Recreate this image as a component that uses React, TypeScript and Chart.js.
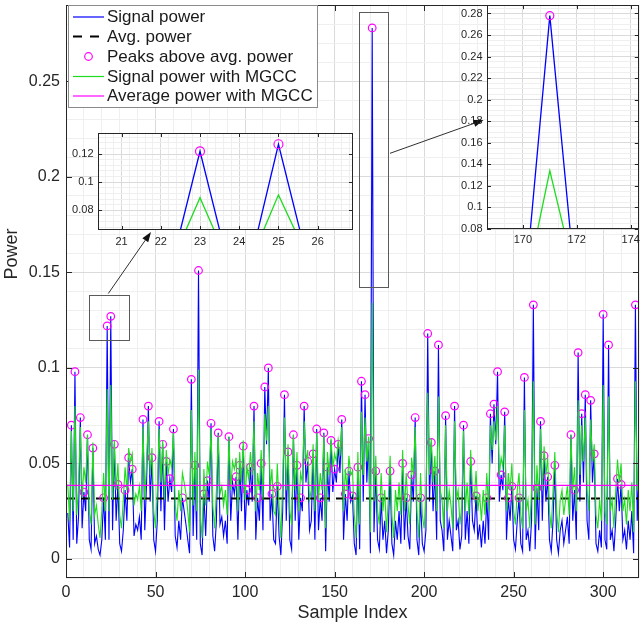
import React, { useEffect, useRef } from "react";
import { Chart, registerables } from "chart.js";

Chart.register(...registerables);

const FONT = "'Liberation Sans', Arial, Helvetica, sans-serif";

// Signal power (blue), samples 1..320
const signalPower: number[] = [
  0.024,0.006,0.070,0.010,0.098,0.008,0.022,0.074,0.016,0.035,
  0.025,0.065,0.010,0.005,0.058,0.008,0.012,0.005,0.002,0.010,
  0.032,0.010,0.122,0.010,0.127,0.015,0.060,0.020,0.039,0.008,
  0.004,0.015,0.036,0.020,0.053,0.040,0.047,0.012,0.018,0.015,
  0.022,0.010,0.073,0.015,0.040,0.080,0.030,0.053,0.010,0.004,
  0.020,0.072,0.025,0.060,0.015,0.051,0.030,0.042,0.035,0.068,
  0.012,0.006,0.020,0.010,0.032,0.025,0.018,0.010,0.003,0.094,
  0.012,0.049,0.010,0.151,0.008,0.002,0.034,0.012,0.041,0.030,
  0.071,0.012,0.004,0.020,0.066,0.018,0.022,0.012,0.020,0.008,
  0.064,0.020,0.040,0.034,0.043,0.010,0.049,0.025,0.059,0.015,
  0.036,0.028,0.048,0.030,0.080,0.010,0.032,0.020,0.050,0.015,
  0.090,0.060,0.100,0.020,0.034,0.010,0.008,0.038,0.012,0.002,
  0.025,0.086,0.020,0.056,0.010,0.005,0.065,0.020,0.049,0.010,
  0.032,0.025,0.080,0.040,0.051,0.015,0.020,0.055,0.010,0.068,
  0.015,0.032,0.020,0.066,0.004,0.048,0.030,0.062,0.035,0.047,
  0.040,0.060,0.045,0.073,0.010,0.034,0.020,0.046,0.030,0.033,
  0.008,0.002,0.048,0.005,0.093,0.030,0.086,0.040,0.063,0.003,
  0.278,0.014,0.046,0.010,0.005,0.032,0.010,0.020,0.003,0.015,
  0.046,0.008,0.002,0.020,0.010,0.025,0.008,0.050,0.010,0.032,
  0.012,0.005,0.044,0.030,0.074,0.010,0.002,0.032,0.008,0.004,
  0.015,0.118,0.030,0.061,0.025,0.046,0.010,0.112,0.020,0.015,
  0.004,0.075,0.010,0.020,0.012,0.004,0.080,0.015,0.020,0.005,
  0.012,0.070,0.010,0.025,0.008,0.051,0.020,0.015,0.033,0.010,
  0.018,0.006,0.020,0.008,0.032,0.010,0.076,0.050,0.081,0.060,
  0.098,0.030,0.044,0.036,0.077,0.010,0.032,0.020,0.038,0.010,
  0.005,0.020,0.032,0.008,0.004,0.095,0.010,0.015,0.004,0.020,
  0.133,0.005,0.037,0.015,0.072,0.020,0.054,0.030,0.043,0.010,
  0.004,0.020,0.049,0.010,0.003,0.015,0.020,0.008,0.015,0.022,
  0.008,0.065,0.020,0.036,0.010,0.108,0.030,0.076,0.040,0.086,
  0.020,0.010,0.083,0.040,0.055,0.008,0.004,0.015,0.006,0.128,
  0.010,0.005,0.112,0.010,0.015,0.004,0.020,0.042,0.025,0.039,
  0.010,0.015,0.005,0.020,0.010,0.025,0.003,0.133,0.020,0.045,
];

// Signal power with MGCC (green), samples 1..320
const mgccPower: number[] = [
  0.039,0.020,0.067,0.025,0.080,0.023,0.038,0.069,0.032,0.048,
  0.040,0.065,0.025,0.018,0.061,0.023,0.028,0.018,0.011,0.025,
  0.045,0.025,0.089,0.025,0.091,0.031,0.062,0.036,0.050,0.023,
  0.016,0.031,0.048,0.036,0.058,0.051,0.055,0.028,0.034,0.031,
  0.038,0.025,0.069,0.031,0.051,0.072,0.044,0.058,0.025,0.016,
  0.036,0.068,0.040,0.062,0.031,0.057,0.044,0.052,0.048,0.066,
  0.028,0.020,0.036,0.025,0.045,0.040,0.034,0.025,0.014,0.078,
  0.028,0.056,0.025,0.099,0.023,0.011,0.047,0.028,0.051,0.044,
  0.068,0.028,0.016,0.036,0.065,0.034,0.038,0.028,0.036,0.023,
  0.064,0.036,0.051,0.047,0.053,0.025,0.056,0.040,0.062,0.031,
  0.048,0.042,0.056,0.044,0.072,0.025,0.045,0.036,0.057,0.031,
  0.076,0.062,0.080,0.036,0.047,0.025,0.023,0.050,0.028,0.011,
  0.040,0.074,0.036,0.060,0.025,0.018,0.065,0.036,0.056,0.025,
  0.045,0.040,0.072,0.051,0.057,0.031,0.036,0.060,0.025,0.066,
  0.031,0.045,0.036,0.065,0.016,0.056,0.044,0.063,0.048,0.055,
  0.051,0.062,0.054,0.069,0.025,0.047,0.036,0.054,0.044,0.046,
  0.023,0.011,0.056,0.018,0.077,0.044,0.074,0.051,0.064,0.014,
  0.134,0.030,0.054,0.025,0.018,0.045,0.025,0.036,0.014,0.031,
  0.054,0.023,0.011,0.036,0.025,0.040,0.023,0.057,0.025,0.045,
  0.028,0.018,0.053,0.044,0.069,0.025,0.011,0.045,0.023,0.016,
  0.031,0.087,0.044,0.063,0.040,0.054,0.025,0.085,0.036,0.031,
  0.016,0.070,0.025,0.036,0.028,0.016,0.072,0.031,0.036,0.018,
  0.028,0.067,0.025,0.040,0.023,0.057,0.036,0.031,0.046,0.025,
  0.034,0.020,0.036,0.023,0.045,0.025,0.070,0.057,0.072,0.062,
  0.080,0.044,0.053,0.048,0.070,0.025,0.045,0.036,0.050,0.025,
  0.018,0.036,0.045,0.023,0.016,0.078,0.025,0.031,0.016,0.036,
  0.093,0.018,0.049,0.031,0.068,0.036,0.059,0.044,0.053,0.025,
  0.016,0.036,0.056,0.025,0.014,0.031,0.036,0.023,0.031,0.038,
  0.023,0.065,0.036,0.048,0.025,0.083,0.044,0.070,0.051,0.074,
  0.036,0.025,0.073,0.051,0.060,0.023,0.016,0.031,0.020,0.091,
  0.025,0.018,0.085,0.025,0.031,0.016,0.036,0.052,0.040,0.050,
  0.025,0.031,0.018,0.036,0.025,0.040,0.014,0.093,0.036,0.054,
];

const sampleIndex: number[] = signalPower.map((_, i) => i + 1);

const avgPower = 0.0316;
const avgPowerMgcc = 0.0385;

const legendLabels = [
  "Signal power",
  "Avg. power",
  "Peaks above avg. power",
  "Signal power with MGCC",
  "Average power with MGCC",
];

const mainXTicks = [0, 50, 100, 150, 200, 250, 300];
const mainYTicks = [0, 0.05, 0.1, 0.15, 0.2, 0.25];
const inset1XTicks = [21, 22, 23, 24, 25, 26];
const inset1YTicks = [0.08, 0.1, 0.12];
const inset2XTicks = [170, 172, 174];
const inset2YTicks = [0.08, 0.1, 0.12, 0.14, 0.16, 0.18, 0.2, 0.22, 0.24, 0.26, 0.28];

const C_BLUE = "#0000ff";
const C_GREEN = "#1fdc1f";
const C_MAG = "#ff00ff";
const C_TEXT = "#262626";
const C_FRAME = "#262626";
const GRID_MAJOR = "#dadada";
const GRID_MINOR = "#efefef";

// peaks above average power (local maxima of the signal)
const peakPoints = sampleIndex
  .map((x, i) => ({ x, y: signalPower[i], i }))
  .filter(
    (p) =>
      p.i > 0 &&
      p.i < signalPower.length - 1 &&
      p.y > avgPower &&
      p.y > signalPower[p.i - 1] &&
      p.y > signalPower[p.i + 1]
  )
  .map(({ x, y }) => ({ x, y }));

const signalXY = sampleIndex.map((x, i) => ({ x, y: signalPower[i] }));
const mgccXY = sampleIndex.map((x, i) => ({ x, y: mgccPower[i] }));

function near(a: number, b: number) {
  return Math.abs(a - b) < 1e-7;
}
function fmt(v: number) {
  return String(+v.toFixed(4));
}
function gridValues(min: number, max: number, step: number, major: number[]) {
  const out: number[] = [];
  const start = Math.ceil(min / step - 1e-6);
  const end = Math.floor(max / step + 1e-6);
  for (let k = start; k <= end; k++) out.push(Math.round(k * step * 1e6) / 1e6);
  major.forEach((m) => {
    if (m >= min && m <= max && !out.some((v) => near(v, m))) out.push(m);
  });
  return out.sort((a, b) => a - b);
}

interface AxisSpec {
  min: number;
  max: number;
  major: number[];
  minorStep: number;
  pad: number;
}
interface PanelSpec {
  x: AxisSpec;
  y: AxisSpec;
  canvasW: number;
  canvasH: number;
  area: { left: number; top: number; right: number; bottom: number };
  fontSize: number;
  tickLen: number;
  white: boolean;
  extra?: (chart: any) => void;
}

function axisOptions(ax: AxisSpec, spec: PanelSpec, horizontal: boolean) {
  const size = horizontal ? spec.canvasH - spec.area.bottom : spec.area.left;
  return {
    type: "linear",
    min: ax.min,
    max: ax.max,
    afterBuildTicks: (scale: any) => {
      scale.ticks = gridValues(ax.min, ax.max, ax.minorStep, ax.major).map((v) => ({ value: v }));
    },
    afterFit: (scale: any) => {
      if (horizontal) scale.height = size;
      else scale.width = size;
      scale.paddingTop = 0;
      scale.paddingBottom = 0;
      scale.paddingLeft = 0;
      scale.paddingRight = 0;
    },
    grid: {
      color: (ctx: any) =>
        ctx.tick && ax.major.some((m) => near(m, ctx.tick.value)) ? GRID_MAJOR : GRID_MINOR,
      lineWidth: 1,
      drawTicks: false,
    },
    border: { display: false },
    ticks: {
      autoSkip: false,
      maxRotation: 0,
      minRotation: 0,
      padding: ax.pad,
      color: C_TEXT,
      font: { family: FONT, size: spec.fontSize },
      callback: (v: any) => (ax.major.some((m) => near(m, Number(v))) ? fmt(Number(v)) : ""),
    },
  };
}

function framePlugin(spec: PanelSpec) {
  return {
    id: "frame",
    beforeDraw(chart: any) {
      if (!spec.white) return;
      const a = chart.chartArea;
      const ctx = chart.ctx;
      ctx.save();
      ctx.fillStyle = "#ffffff";
      ctx.fillRect(a.left, a.top, a.right - a.left, a.bottom - a.top);
      ctx.restore();
    },
    afterDraw(chart: any) {
      const a = chart.chartArea;
      const ctx = chart.ctx;
      const xs = chart.scales.x;
      const ys = chart.scales.y;
      ctx.save();
      ctx.strokeStyle = C_FRAME;
      ctx.lineWidth = 1;
      ctx.beginPath();
      spec.x.major.forEach((v) => {
        if (v < spec.x.min || v > spec.x.max) return;
        const px = Math.round(xs.getPixelForValue(v)) + 0.5;
        ctx.moveTo(px, a.bottom);
        ctx.lineTo(px, a.bottom - spec.tickLen);
        ctx.moveTo(px, a.top);
        ctx.lineTo(px, a.top + spec.tickLen);
      });
      spec.y.major.forEach((v) => {
        if (v < spec.y.min || v > spec.y.max) return;
        const py = Math.round(ys.getPixelForValue(v)) + 0.5;
        ctx.moveTo(a.left, py);
        ctx.lineTo(a.left + spec.tickLen, py);
        ctx.moveTo(a.right, py);
        ctx.lineTo(a.right - spec.tickLen, py);
      });
      ctx.stroke();
      ctx.strokeRect(
        Math.round(a.left) + 0.5,
        Math.round(a.top) + 0.5,
        Math.round(a.right - a.left) - 1,
        Math.round(a.bottom - a.top) - 1
      );
      ctx.restore();
      if (spec.extra) spec.extra(chart);
    },
  };
}

function buildConfig(spec: PanelSpec, datasets: any[]) {
  const a = spec.area;
  return {
    type: "line",
    data: { datasets },
    options: {
      responsive: false,
      maintainAspectRatio: false,
      animation: false,
      devicePixelRatio: 1,
      events: [],
      layout: { padding: { left: 0, top: a.top, right: spec.canvasW - a.right, bottom: 0 } },
      plugins: { legend: { display: false }, tooltip: { enabled: false }, title: { display: false } },
      elements: { line: { tension: 0 } },
      scales: {
        x: axisOptions(spec.x, spec, true),
        y: axisOptions(spec.y, spec, false),
      },
    },
    plugins: [framePlugin(spec)],
  } as any;
}

function lineDataset(label: string, data: any[], color: string, width: number, order: number, dash?: number[]) {
  return {
    label,
    data,
    borderColor: color,
    backgroundColor: color,
    borderWidth: width,
    borderDash: dash || [],
    pointRadius: 0,
    pointHoverRadius: 0,
    fill: false,
    order,
  };
}
function peakDataset(radius: number) {
  return {
    label: legendLabels[2],
    data: peakPoints,
    showLine: false,
    borderColor: C_MAG,
    backgroundColor: "rgba(0,0,0,0)",
    pointBorderColor: C_MAG,
    pointBackgroundColor: "rgba(0,0,0,0)",
    pointBorderWidth: 1.2,
    pointRadius: radius,
    pointHoverRadius: radius,
    order: 2,
  };
}

// annotation geometry (zoom rectangles in data units, arrows in figure pixels)
const zoomRect1 = { x0: 13, x1: 35, y0: 0.1145, y1: 0.138 };
const zoomRect2 = { x0: 163.7, x1: 180, y0: 0.1426, y1: 0.2863 };
const arrow1 = { x0: 108.3, y0: 293.5, x1: 151, y1: 232 };
const arrow2 = { x0: 390, y0: 153.3, x1: 483.5, y1: 120 };

function drawArrow(ctx: any, ar: any) {
  const ang = Math.atan2(ar.y1 - ar.y0, ar.x1 - ar.x0);
  const len = 10;
  const half = 3.6;
  const bx = ar.x1 - len * Math.cos(ang);
  const by = ar.y1 - len * Math.sin(ang);
  ctx.strokeStyle = "#303030";
  ctx.lineWidth = 1;
  ctx.beginPath();
  ctx.moveTo(ar.x0, ar.y0);
  ctx.lineTo(bx, by);
  ctx.stroke();
  ctx.fillStyle = "#111";
  ctx.beginPath();
  ctx.moveTo(ar.x1, ar.y1);
  ctx.lineTo(bx + half * Math.sin(ang), by - half * Math.cos(ang));
  ctx.lineTo(bx - half * Math.sin(ang), by + half * Math.cos(ang));
  ctx.closePath();
  ctx.fill();
}

function mainExtra(chart: any) {
  const ctx = chart.ctx;
  const xs = chart.scales.x;
  const ys = chart.scales.y;
  ctx.save();
  // zoom rectangles
  ctx.strokeStyle = "#5a5a5a";
  ctx.lineWidth = 1;
  [zoomRect1, zoomRect2].forEach((r) => {
    const x0 = Math.round(xs.getPixelForValue(r.x0)) + 0.5;
    const x1 = Math.round(xs.getPixelForValue(r.x1)) + 0.5;
    const y0 = Math.round(ys.getPixelForValue(r.y1)) + 0.5;
    const y1 = Math.round(ys.getPixelForValue(r.y0)) + 0.5;
    ctx.strokeRect(x0, y0, x1 - x0, y1 - y0);
  });
  drawArrow(ctx, arrow1);
  drawArrow(ctx, arrow2);

  // legend
  const lx = 68, ly = 5, lw = 249, lh = 102;
  ctx.fillStyle = "#ffffff";
  ctx.fillRect(lx, ly, lw, lh);
  ctx.strokeStyle = "#8a8a8a";
  ctx.strokeRect(lx + 0.5, ly + 0.5, lw, lh);
  const rows = [17, 36.5, 56.5, 76.5, 96];
  const sx0 = 73, sx1 = 104;
  ctx.lineCap = "butt";
  ctx.strokeStyle = C_BLUE;
  ctx.lineWidth = 1.2;
  ctx.beginPath(); ctx.moveTo(sx0, rows[0]); ctx.lineTo(sx1, rows[0]); ctx.stroke();
  ctx.strokeStyle = "#000";
  ctx.lineWidth = 2;
  ctx.setLineDash([9, 8]);
  ctx.beginPath(); ctx.moveTo(sx0, rows[1]); ctx.lineTo(sx1, rows[1]); ctx.stroke();
  ctx.setLineDash([]);
  ctx.strokeStyle = C_MAG;
  ctx.lineWidth = 1.2;
  ctx.beginPath(); ctx.arc(88.5, rows[2], 3.8, 0, Math.PI * 2); ctx.stroke();
  ctx.strokeStyle = C_GREEN;
  ctx.lineWidth = 1.2;
  ctx.beginPath(); ctx.moveTo(sx0, rows[3]); ctx.lineTo(sx1, rows[3]); ctx.stroke();
  ctx.strokeStyle = C_MAG;
  ctx.beginPath(); ctx.moveTo(sx0, rows[4]); ctx.lineTo(sx1, rows[4]); ctx.stroke();
  ctx.fillStyle = "#1a1a1a";
  ctx.font = `17px ${FONT}`;
  ctx.textAlign = "left";
  ctx.textBaseline = "middle";
  legendLabels.forEach((t, i) => ctx.fillText(t, 107, rows[i] + 0.5));

  // axis titles
  ctx.font = `18px ${FONT}`;
  ctx.fillStyle = C_TEXT;
  ctx.textAlign = "center";
  ctx.textBaseline = "middle";
  ctx.fillText("Sample Index", (chart.chartArea.left + chart.chartArea.right) / 2, 613);
  ctx.translate(12, 254);
  ctx.rotate(-Math.PI / 2);
  ctx.fillText("Power", 0, 0);
  ctx.restore();
}

const mainSpec: PanelSpec = {
  x: { min: 0, max: 320, major: mainXTicks, minorStep: 10, pad: 5 },
  y: { min: -0.01, max: 0.29, major: mainYTicks, minorStep: 0.01, pad: 6 },
  canvasW: 644,
  canvasH: 625,
  area: { left: 66, top: 1, right: 642, bottom: 578 },
  fontSize: 16,
  tickLen: 6,
  white: false,
  extra: mainExtra,
};

const inset1Spec: PanelSpec = {
  x: { min: 20.4, max: 26.9, major: inset1XTicks, minorStep: 0.2, pad: 5 },
  y: { min: 0.066, max: 0.135, major: inset1YTicks, minorStep: 0.004, pad: 4.5 },
  canvasW: 330,
  canvasH: 130,
  area: { left: 58, top: 8, right: 313, bottom: 105 },
  fontSize: 11,
  tickLen: 4,
  white: true,
};

const inset2Spec: PanelSpec = {
  x: { min: 168.67, max: 174.3, major: inset2XTicks, minorStep: 2 / 3, pad: 4 },
  y: { min: 0.08, max: 0.2877, major: inset2YTicks, minorStep: 0.005, pad: 4.5 },
  canvasW: 204,
  canvasH: 255,
  area: { left: 47, top: 3, right: 200.5, bottom: 229 },
  fontSize: 11,
  tickLen: 4,
  white: true,
};

function mainDatasets() {
  return [
    lineDataset(legendLabels[4], [{ x: 0, y: avgPowerMgcc }, { x: 320, y: avgPowerMgcc }], C_MAG, 1.3, 0),
    lineDataset(legendLabels[3], mgccXY, C_GREEN, 1.1, 1),
    peakDataset(3.8),
    lineDataset(legendLabels[1], [{ x: 0, y: avgPower }, { x: 320, y: avgPower }], "#000000", 2, 3, [9, 6]),
    lineDataset(legendLabels[0], signalXY, C_BLUE, 1.1, 4),
  ];
}
function insetDatasets(r: number) {
  return [
    lineDataset(legendLabels[3], mgccXY, C_GREEN, 1.3, 1),
    peakDataset(r),
    lineDataset(legendLabels[0], signalXY, C_BLUE, 1.3, 4),
  ];
}

export default function App() {
  const mainRef = useRef<HTMLCanvasElement>(null);
  const in1Ref = useRef<HTMLCanvasElement>(null);
  const in2Ref = useRef<HTMLCanvasElement>(null);

  useEffect(() => {
    const charts = [
      new Chart(mainRef.current as HTMLCanvasElement, buildConfig(mainSpec, mainDatasets())),
      new Chart(in1Ref.current as HTMLCanvasElement, buildConfig(inset1Spec, insetDatasets(4.5))),
      new Chart(in2Ref.current as HTMLCanvasElement, buildConfig(inset2Spec, insetDatasets(4))),
    ];
    return () => charts.forEach((c) => c.destroy());
  }, []);

  return (
    <div style={{ position: "absolute", left: 0, top: 0, width: 644, height: 625, background: "#fff", overflow: "hidden" }}>
      <canvas ref={mainRef} width={644} height={625} style={{ position: "absolute", left: 0, top: 0, width: 644, height: 625 }} />
      <canvas ref={in1Ref} width={330} height={130} style={{ position: "absolute", left: 40, top: 125, width: 330, height: 130 }} />
      <canvas ref={in2Ref} width={204} height={255} style={{ position: "absolute", left: 440, top: 0, width: 204, height: 255 }} />
    </div>
  );
}
